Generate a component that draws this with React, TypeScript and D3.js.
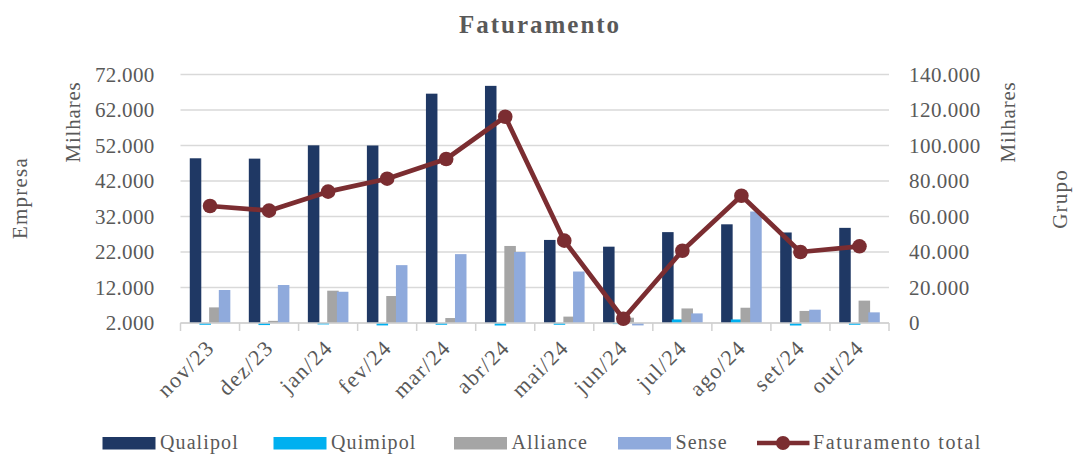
import React from "react";
import * as d3 from "d3";

const categories = ["nov/23", "dez/23", "jan/24", "fev/24", "mar/24", "abr/24", "mai/24", "jun/24", "jul/24", "ago/24", "set/24", "out/24"];
const qualipol = [48400, 48300, 52050, 52000, 66600, 68800, 25400, 23500, 27600, 29800, 27500, 28800];
const quimipol = [1500, 1400, 1600, 1200, 1500, 800, 1500, 1700, 3000, 3000, 1000, 1500];
const alliance = [6400, 2600, 11100, 9600, 3400, 23700, 3800, 3500, 6100, 6300, 5400, 8300];
const sense = [11300, 12700, 10800, 18300, 21400, 22000, 16500, 1200, 4700, 33400, 5750, 5000];
const faturamentoTotal = [65900, 63300, 74000, 81300, 92400, 116200, 46400, 2400, 40700, 71700, 40000, 43200];
const leftTicks = [2000, 12000, 22000, 32000, 42000, 52000, 62000, 72000];
const rightTicks = [0, 20000, 40000, 60000, 80000, 100000, 120000, 140000];

const seriesNames = ["Qualipol", "Quimipol", "Alliance", "Sense"];
const seriesData = [qualipol, quimipol, alliance, sense];
const seriesColors = ["#1F3864", "#00B0F0", "#A5A5A5", "#8FAADC"];
const lineColor = "#7B2D31";
const textColor = "#595959";
const font = "'Liberation Serif', 'DejaVu Serif', serif";

const fmt = (v: number) => (v === 0 ? "0" : d3.format(",")(v).replace(/,/g, "."));

export default function App() {
  const W = 1073, H = 454;
  const left = 180.5, right = 889, top = 74.5, bottom = 323;
  const x = d3.scaleBand<string>().domain(categories).range([left, right]).padding(0);
  const yL = d3.scaleLinear().domain([2000, 72000]).range([bottom, top]);
  const yR = d3.scaleLinear().domain([0, 140000]).range([bottom, top]);
  const bw = x.bandwidth();
  const barW = bw * 0.195;
  const step = bw * 0.164;
  const off0 = bw * 0.157;

  const line = d3.line<number>()
    .x((_, i) => (x(categories[i]) as number) + bw / 2)
    .y((d) => yR(d));

  const legendItems = [
    { name: seriesNames[0], x: 102.5, color: seriesColors[0] },
    { name: seriesNames[1], x: 273.5, color: seriesColors[1] },
    { name: seriesNames[2], x: 454, color: seriesColors[2] },
    { name: seriesNames[3], x: 618, color: seriesColors[3] },
  ];

  const fs = 21;
  const legY = 449;

  return (
    <svg width={W} height={H} style={{ position: "absolute", left: 0, top: 0, background: "#fff" }} fontFamily={font}>
      <defs>
        <clipPath id="plotClip">
          <rect x={left} y={40} width={right - left} height={bottom - 40 + 2.5} />
        </clipPath>
      </defs>
      <text x={540} y={33} textAnchor="middle" fontSize={25} fontWeight="bold" letterSpacing={2} fill={textColor}>Faturamento</text>

      {leftTicks.map((t) => (
        <line key={"g" + t} x1={left} x2={right} y1={yL(t)} y2={yL(t)} stroke="#D9D9D9" strokeWidth={1.7} />
      ))}
      {leftTicks.map((t) => (
        <text key={"l" + t} x={154.5} y={yL(t)} dy="0.35em" textAnchor="end" fontSize={fs} letterSpacing={0.3} fill={textColor}>{fmt(t)}</text>
      ))}
      {rightTicks.map((t) => (
        <text key={"r" + t} x={909} y={yR(t)} dy="0.35em" textAnchor="start" fontSize={fs} letterSpacing={0.5} fill={textColor}>{fmt(t)}</text>
      ))}

      <g clipPath="url(#plotClip)">
        {seriesData.map((arr, si) =>
          arr.map((v, i) => {
            const bx = (x(categories[i]) as number) + off0 + si * step;
            const y0 = yL(2000);
            const y1 = yL(v);
            return (
              <rect key={si + "-" + i} x={bx} y={Math.min(y0, y1)} width={barW} height={Math.abs(y1 - y0)} fill={seriesColors[si]} />
            );
          })
        )}
      </g>

      <line x1={left} x2={right} y1={bottom} y2={bottom} stroke="#D0D0D0" strokeWidth={1.5} />
      {d3.range(categories.length + 1).map((i) => {
        const tx = left + i * bw;
        return <line key={"t" + i} x1={tx} x2={tx} y1={bottom} y2={bottom + 8} stroke="#D0D0D0" strokeWidth={1.5} />;
      })}

      <path d={line(faturamentoTotal) || ""} fill="none" stroke={lineColor} strokeWidth={4.7} strokeLinejoin="round" />
      {faturamentoTotal.map((v, i) => (
        <circle key={"c" + i} cx={(x(categories[i]) as number) + bw / 2} cy={yR(v)} r={7.3} fill={lineColor} />
      ))}

      {categories.map((c) => {
        const cx = (x(c) as number) + bw / 2;
        return (
          <text key={"x" + c} transform={`translate(${cx - 5},${bottom + 15}) rotate(-45)`} textAnchor="end" dy="0.7em" fontSize={22} letterSpacing={1.5} fill={textColor}>{c}</text>
        );
      })}

      <text transform="translate(19.5,198) rotate(-90)" textAnchor="middle" dy="0.35em" fontSize={fs} letterSpacing={1.2} fill={textColor}>Empresa</text>
      <text transform="translate(72.5,122) rotate(-90)" textAnchor="middle" dy="0.35em" fontSize={fs} letterSpacing={0.8} fill={textColor}>Milhares</text>
      <text transform="translate(1008,122) rotate(-90)" textAnchor="middle" dy="0.35em" fontSize={fs} letterSpacing={0.8} fill={textColor}>Milhares</text>
      <text transform="translate(1060,199) rotate(-90)" textAnchor="middle" dy="0.35em" fontSize={fs} letterSpacing={1.2} fill={textColor}>Grupo</text>

      {legendItems.map((it) => (
        <g key={it.name}>
          <rect x={it.x} y={legY - 12} width={53} height={12.5} fill={it.color} />
          <text x={it.x + 57.5} y={legY} fontSize={20} letterSpacing={1.1} fill={textColor}>{it.name}</text>
        </g>
      ))}
      <line x1={757} x2={809.5} y1={legY - 6} y2={legY - 6} stroke={lineColor} strokeWidth={4.7} />
      <circle cx={783} cy={legY - 6} r={7} fill={lineColor} />
      <text x={813} y={legY} fontSize={20} letterSpacing={1.6} fill={textColor}>Faturamento total</text>
    </svg>
  );
}
